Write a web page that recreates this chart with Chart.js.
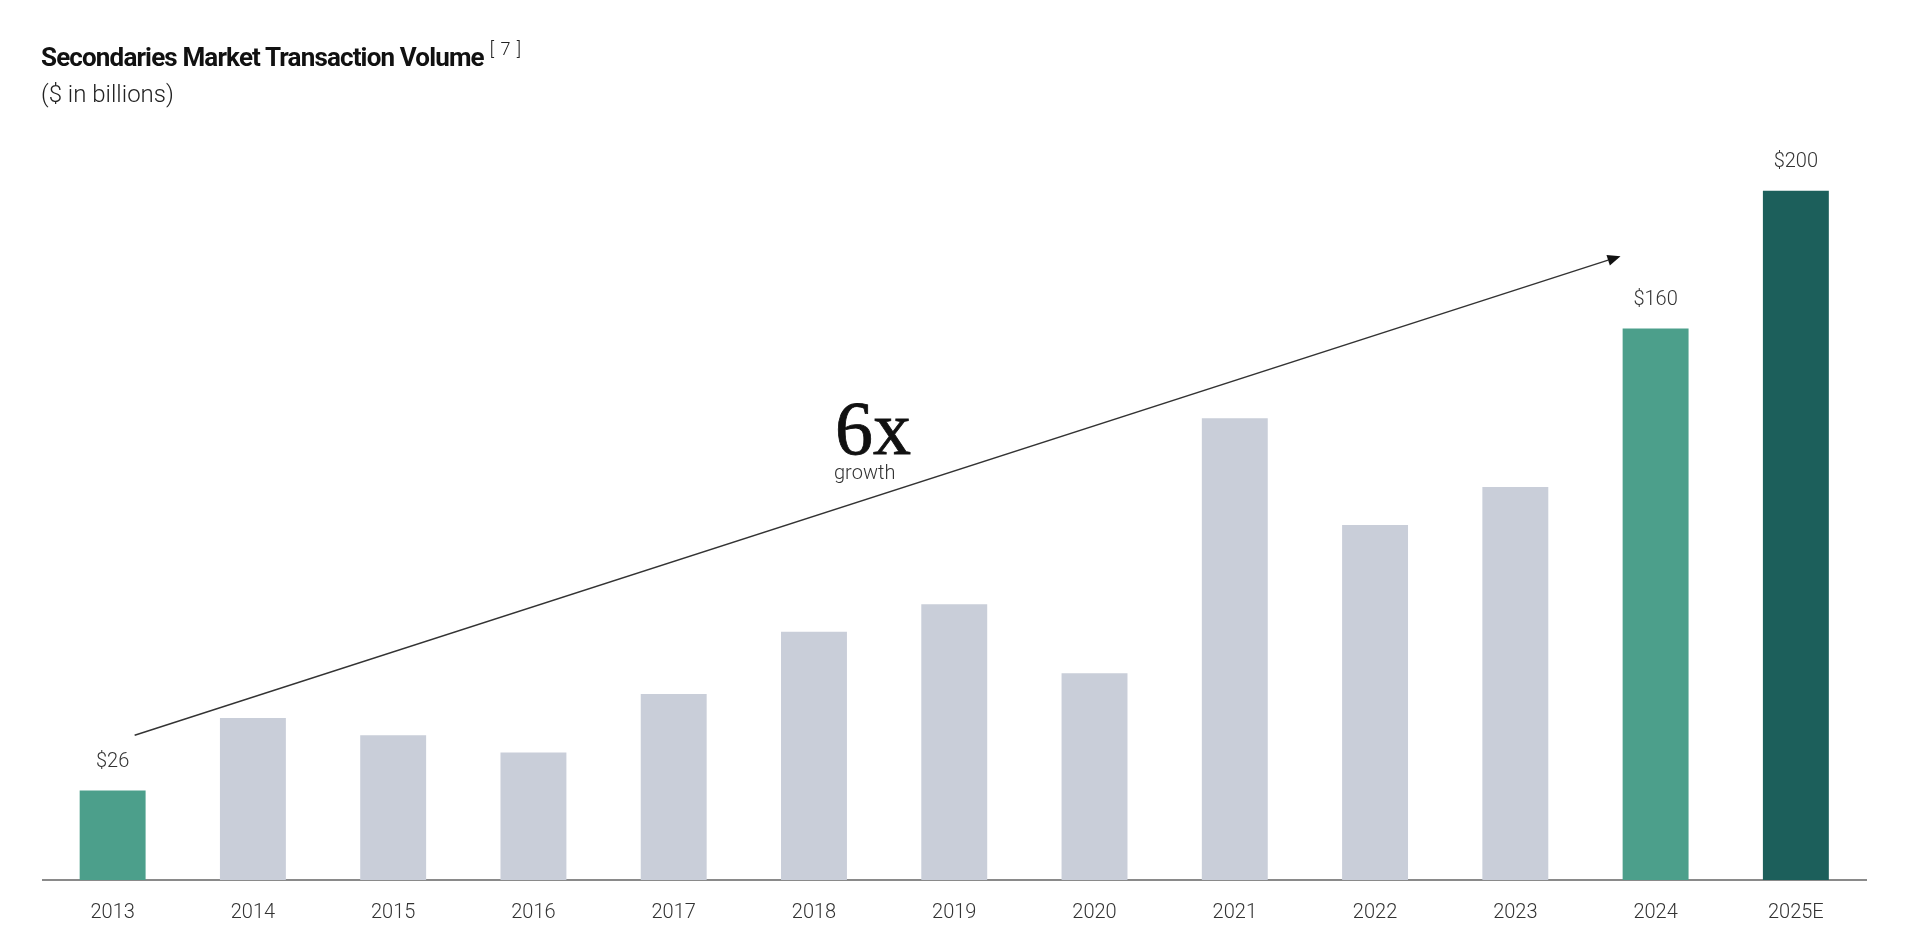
<!DOCTYPE html>
<html>
<head>
<meta charset="utf-8">
<script src="https://cdn.jsdelivr.net/npm/chart.js@4.4.1/dist/chart.umd.min.js"></script>
<style>
  html, body { margin: 0; padding: 0; background: #ffffff; }
  #wrap { position: relative; width: 1920px; height: 951px; }
  #chart { position: absolute; left: 0; top: 0; }
  .title { position: absolute; left: 41px; top: 34px; font-family: Roboto, "Open Sans", sans-serif; font-weight: 700; font-size: 26px; line-height: 30px; color: #111; letter-spacing: -0.85px; white-space: nowrap; }
  .title .sup { font-weight: 300; font-size: 18px; letter-spacing: 1px; vertical-align: 11px; margin-left: 6px; color: #222; }
  .subtitle { position: absolute; left: 41px; top: 80px; font-family: Roboto, "Open Sans", sans-serif; font-weight: 300; font-size: 24px; line-height: 28px; color: #222; white-space: nowrap; }
</style>
</head>
<body>
<div id="wrap">
  <canvas id="chart" width="1920" height="951"></canvas>
  <div class="title">Secondaries Market Transaction Volume<span class="sup">[ 7 ]</span></div>
  <div class="subtitle">($ in billions)</div>
</div>
<script>
// ---- data ----
const categories = ['2013','2014','2015','2016','2017','2018','2019','2020','2021','2022','2023','2024','2025E'];
const volumes    = [26, 47, 42, 37, 54, 72, 80, 60, 134, 103, 114, 160, 200];
const labelledIdx = [0, 11, 12];
const barColors  = ['#4C9F8B','#C9CED9','#C9CED9','#C9CED9','#C9CED9','#C9CED9','#C9CED9','#C9CED9','#C9CED9','#C9CED9','#C9CED9','#4C9F8B','#1C5F5B'];
const growthText = '6x';
const growthSub  = 'growth';
// arrow in data space: [category index, value]
const arrowFrom = [0.157, 42];
const arrowTo   = [10.75, 181];

const annotations = {
  id: 'annotations',
  afterDatasetsDraw(chart) {
    const ctx = chart.ctx;
    const xs = chart.scales.x, ys = chart.scales.y;
    const meta = chart.getDatasetMeta(0);
    ctx.save();
    // value labels
    ctx.font = '300 20px Roboto, sans-serif';
    ctx.fillStyle = '#333';
    ctx.textAlign = 'center';
    ctx.textBaseline = 'middle';
    labelledIdx.forEach(i => {
      const bar = meta.data[i];
      ctx.fillText('$' + volumes[i], bar.x, bar.y - 28.5);
    });
    // arrow
    const x0 = xs.getPixelForValue(arrowFrom[0]), y0 = ys.getPixelForValue(arrowFrom[1]);
    const x1 = xs.getPixelForValue(arrowTo[0]),   y1 = ys.getPixelForValue(arrowTo[1]);
    const ang = Math.atan2(y1 - y0, x1 - x0);
    const L = 13, W = 5.5;
    const bx = x1 - L * Math.cos(ang), by = y1 - L * Math.sin(ang);
    ctx.strokeStyle = '#333';
    ctx.lineWidth = 1.4;
    ctx.beginPath();
    ctx.moveTo(x0, y0);
    ctx.lineTo(bx, by);
    ctx.stroke();
    ctx.fillStyle = '#111';
    ctx.beginPath();
    ctx.moveTo(x1, y1);
    ctx.lineTo(bx + W * Math.sin(ang), by - W * Math.cos(ang));
    ctx.lineTo(bx - W * Math.sin(ang), by + W * Math.cos(ang));
    ctx.closePath();
    ctx.fill();
    // growth text
    const gx = xs.getPixelForValue(5.15);
    ctx.textAlign = 'left';
    ctx.textBaseline = 'alphabetic';
    ctx.fillStyle = '#111';
    ctx.strokeStyle = '#111';
    ctx.lineWidth = 0.8;
    ctx.font = '76px "Liberation Serif", "DejaVu Serif", serif';
    const gy = ys.getPixelForValue(123.5);
    ctx.fillText(growthText, gx, gy);
    ctx.strokeText(growthText, gx, gy);
    ctx.fillStyle = '#333';
    ctx.font = '300 20px Roboto, sans-serif';
    ctx.fillText(growthSub, gx - 1, ys.getPixelForValue(116.3));
    ctx.restore();
  }
};

new Chart(document.getElementById('chart'), {
  type: 'bar',
  data: {
    labels: categories,
    datasets: [{
      data: volumes,
      backgroundColor: barColors,
      borderWidth: 0,
      barPercentage: 0.47,
      categoryPercentage: 1.0
    }]
  },
  options: {
    responsive: false,
    animation: false,
    devicePixelRatio: 1,
    layout: { padding: { left: 42.5, right: 54, top: 121.8, bottom: 0 } },
    plugins: { legend: { display: false }, tooltip: { enabled: false }, title: { display: false } },
    scales: {
      x: {
        grid: { display: false, drawTicks: false },
        border: { display: true, color: '#8a8a8a', width: 2 },
        ticks: { color: '#333', font: { family: 'Roboto', weight: '300', size: 20 }, padding: 21, maxRotation: 0, autoSkip: false },
        afterFit(scale) { scale.height = 71; }
      },
      y: {
        display: false,
        min: 0,
        max: 220,
        afterFit(scale) { scale.width = 0; }
      }
    }
  },
  plugins: [annotations]
});
</script>
</body>
</html>
